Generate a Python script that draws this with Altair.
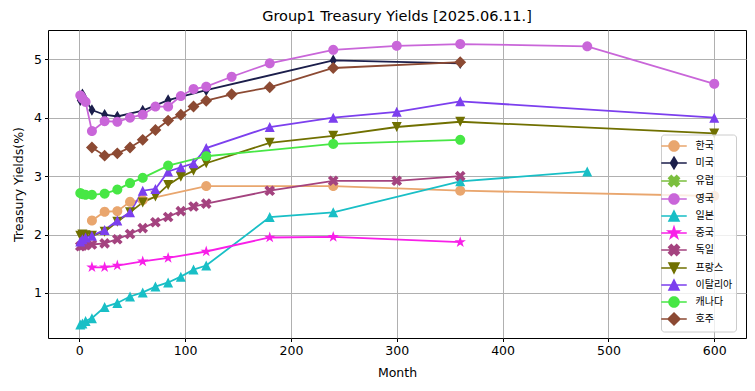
import math
import altair as alt
import pandas as pd

countries = ["한국", "미국", "유럽", "영국", "일본", "중국", "독일", "프랑스", "이탈리아", "캐나다", "호주"]
colors = ["#E9A66E", "#1B1E4B", "#7BBF3E", "#C966D9", "#19BFC6", "#F81FE8",
          "#A4437F", "#707000", "#7C3FEE", "#47E745", "#8C4A33"]

kr_m = [12, 24, 36, 48, 60, 120, 240, 360, 600]
kr_v = [2.24, 2.39, 2.40, 2.56, 2.59, 2.83, 2.83, 2.75, 2.66]
us_m = [1, 2, 3, 6, 12, 24, 36, 60, 84, 120, 240, 360]
us_v = [4.30, 4.35, 4.40, 4.30, 4.13, 4.05, 4.02, 4.12, 4.30, 4.47, 4.98, 4.93]
eu_m = []
eu_v = []
uk_m = [1, 3, 6, 12, 24, 36, 48, 60, 72, 84, 96, 108, 120, 144, 180, 240, 300, 360, 480, 600]
uk_v = [4.38, 4.33, 4.27, 3.77, 3.94, 3.93, 4.00, 4.05, 4.19, 4.19, 4.37, 4.49, 4.53, 4.70,
        4.93, 5.16, 5.23, 5.26, 5.22, 4.58]
jp_m = [1, 3, 6, 12, 24, 36, 48, 60, 72, 84, 96, 108, 120, 180, 240, 360, 480]
jp_v = [0.46, 0.48, 0.52, 0.57, 0.76, 0.83, 0.94, 1.01, 1.11, 1.18, 1.28, 1.40, 1.47,
        2.30, 2.38, 2.91, 3.08]
cn_m = [12, 24, 36, 60, 84, 120, 180, 240, 360]
cn_v = [1.44, 1.44, 1.47, 1.54, 1.60, 1.71, 1.95, 1.96, 1.87]
de_m = [1, 3, 6, 12, 24, 36, 48, 60, 72, 84, 96, 108, 120, 180, 240, 300, 360]
de_v = [1.80, 1.81, 1.82, 1.83, 1.85, 1.92, 2.01, 2.11, 2.21, 2.30, 2.40, 2.48, 2.53,
        2.75, 2.92, 2.92, 3.00]
fr_m = [1, 3, 6, 12, 24, 36, 48, 60, 72, 84, 96, 108, 120, 180, 240, 300, 360, 600]
fr_v = [1.98, 2.00, 1.99, 1.98, 2.05, 2.22, 2.38, 2.55, 2.65, 2.85, 2.99, 3.09, 3.22,
        3.57, 3.69, 3.84, 3.93, 3.73]
it_m = [1, 3, 6, 12, 24, 36, 48, 60, 72, 84, 96, 108, 120, 180, 240, 300, 360, 600]
it_v = [1.88, 1.92, 1.95, 1.98, 2.08, 2.24, 2.38, 2.75, 2.78, 3.08, 3.15, 3.22, 3.48,
        3.84, 4.00, 4.10, 4.28, 4.00]
ca_m = [1, 3, 6, 12, 24, 36, 48, 60, 84, 120, 240, 360]
ca_v = [2.71, 2.69, 2.68, 2.68, 2.70, 2.77, 2.88, 2.97, 3.18, 3.34, 3.55, 3.62]
au_m = [12, 24, 36, 48, 60, 72, 84, 96, 108, 120, 144, 180, 240, 360]
au_v = [3.49, 3.35, 3.39, 3.49, 3.62, 3.79, 3.95, 4.05, 4.19, 4.29, 4.40, 4.52, 4.85, 4.95]

x_ticks = [0, 100, 200, 300, 400, 500, 600]
y_ticks = [1, 2, 3, 4, 5]

series = [(kr_m, kr_v), (us_m, us_v), (eu_m, eu_v), (uk_m, uk_v), (jp_m, jp_v),
          (cn_m, cn_v), (de_m, de_v), (fr_m, fr_v), (it_m, it_v), (ca_m, ca_v), (au_m, au_v)]

rows = []
for i, (c, (ms, vs)) in enumerate(zip(countries, series)):
    for m, v in zip(ms, vs):
        rows.append({"country": c, "idx": i, "month": m, "yield": v})
df = pd.DataFrame(rows)

# ---- marker shapes (line segment + marker, for the legend) ----
LH = 1.76


def poly(pts):
    return "M" + "L".join(f"{x:.3f},{y:.3f}" for x, y in pts) + "Z"


def rot(pts, a):
    ca, sa = math.cos(a), math.sin(a)
    return [(x * ca - y * sa, x * sa + y * ca) for x, y in pts]


R = 0.69
circle = poly([(R * math.cos(2 * math.pi * k / 28), R * math.sin(2 * math.pi * k / 28)) for k in range(28)])
thin_diamond = poly([(0, -0.80), (0.48, 0), (0, 0.80), (-0.48, 0)])
diamond = poly([(0, -0.82), (0.82, 0), (0, 0.82), (-0.82, 0)])
a, b = 0.78, 0.26
plus = [(b, -a), (b, -b), (a, -b), (a, b), (b, b), (b, a), (-b, a), (-b, b), (-a, b), (-a, -b), (-b, -b), (-b, -a)]
xshape = poly(rot(plus, math.pi / 4))
tri_up = poly([(0, -R), (R, R), (-R, R)])
tri_down = poly([(0, R), (R, -R), (-R, -R)])
so, si = 0.82, 0.82 * 0.382
star = poly([((so if k % 2 == 0 else si) * math.sin(math.pi * k / 5),
              -(so if k % 2 == 0 else si) * math.cos(math.pi * k / 5)) for k in range(10)])
seg = f"M{-LH},0L{LH},0"
markers = [circle, thin_diamond, xshape, circle, tri_up, star, xshape, tri_down, tri_up, circle, diamond]
shape_range = [seg + m for m in markers]

FONT = "DejaVu Sans"
KFONT = "Noto Sans CJK KR"


def make_legend():
    return alt.Legend(
        title=None, orient="none", legendX=613, legendY=104.5, direction="vertical",
        symbolSize=210, symbolStrokeWidth=1.6, symbolOffset=1.5, labelOffset=13,
        labelFont=KFONT, labelFontSize=10, labelColor="black", padding=3, rowPadding=-1.43,
        fillColor="rgba(255,255,255,0.8)", strokeColor="#cccccc", cornerRadius=3,
    )


xenc = alt.X("month:Q", scale=alt.Scale(domain=[-29.5, 630], nice=False, zero=False),
             axis=alt.Axis(values=x_ticks, title="Month", format="d"))
yenc = alt.Y("yield:Q", scale=alt.Scale(domain=[0.23, 5.5], nice=False, zero=False),
             axis=alt.Axis(values=y_ticks, title="Treasury Yields(%)", format="d"))

lines = alt.Chart(df).mark_line(strokeWidth=1.8).encode(
    x=xenc, y=yenc,
    stroke=alt.Stroke("country:N", scale=alt.Scale(domain=countries, range=colors), legend=make_legend()),
    order=alt.Order("month:Q"),
)

points = alt.Chart(df).mark_point(filled=True, size=210, opacity=1).encode(
    x=xenc, y=yenc,
    color=alt.Color("country:N", scale=alt.Scale(domain=countries, range=colors), legend=make_legend()),
    shape=alt.Shape("country:N", scale=alt.Scale(domain=countries, range=shape_range), legend=make_legend()),
)

chart = alt.layer(lines, points).properties(
    width=698, height=308,
    autosize=alt.AutoSizeParams(type="none"),
    padding={"left": 40, "top": 22, "right": 1, "bottom": 45},
    title=alt.TitleParams("Group1 Treasury Yields [2025.06.11.]", font=FONT, fontSize=14.5,
                          fontWeight="normal", color="black", offset=6, anchor="middle"),
).configure_view(
    stroke="black", strokeWidth=1, fill="white"
).configure_axis(
    grid=True, gridColor="#b0b0b0", gridWidth=1, domain=False,
    tickColor="black", tickSize=3.5, tickWidth=1, labelPadding=3,
    labelFont=FONT, labelFontSize=12.5, labelColor="black",
    titleFont=FONT, titleFontSize=12.5, titleFontWeight="normal", titleColor="black",
).configure_axisX(titlePadding=9).configure_axisY(titlePadding=8)

chart.save("out.html", embed_options={"renderer": "svg", "actions": False})
